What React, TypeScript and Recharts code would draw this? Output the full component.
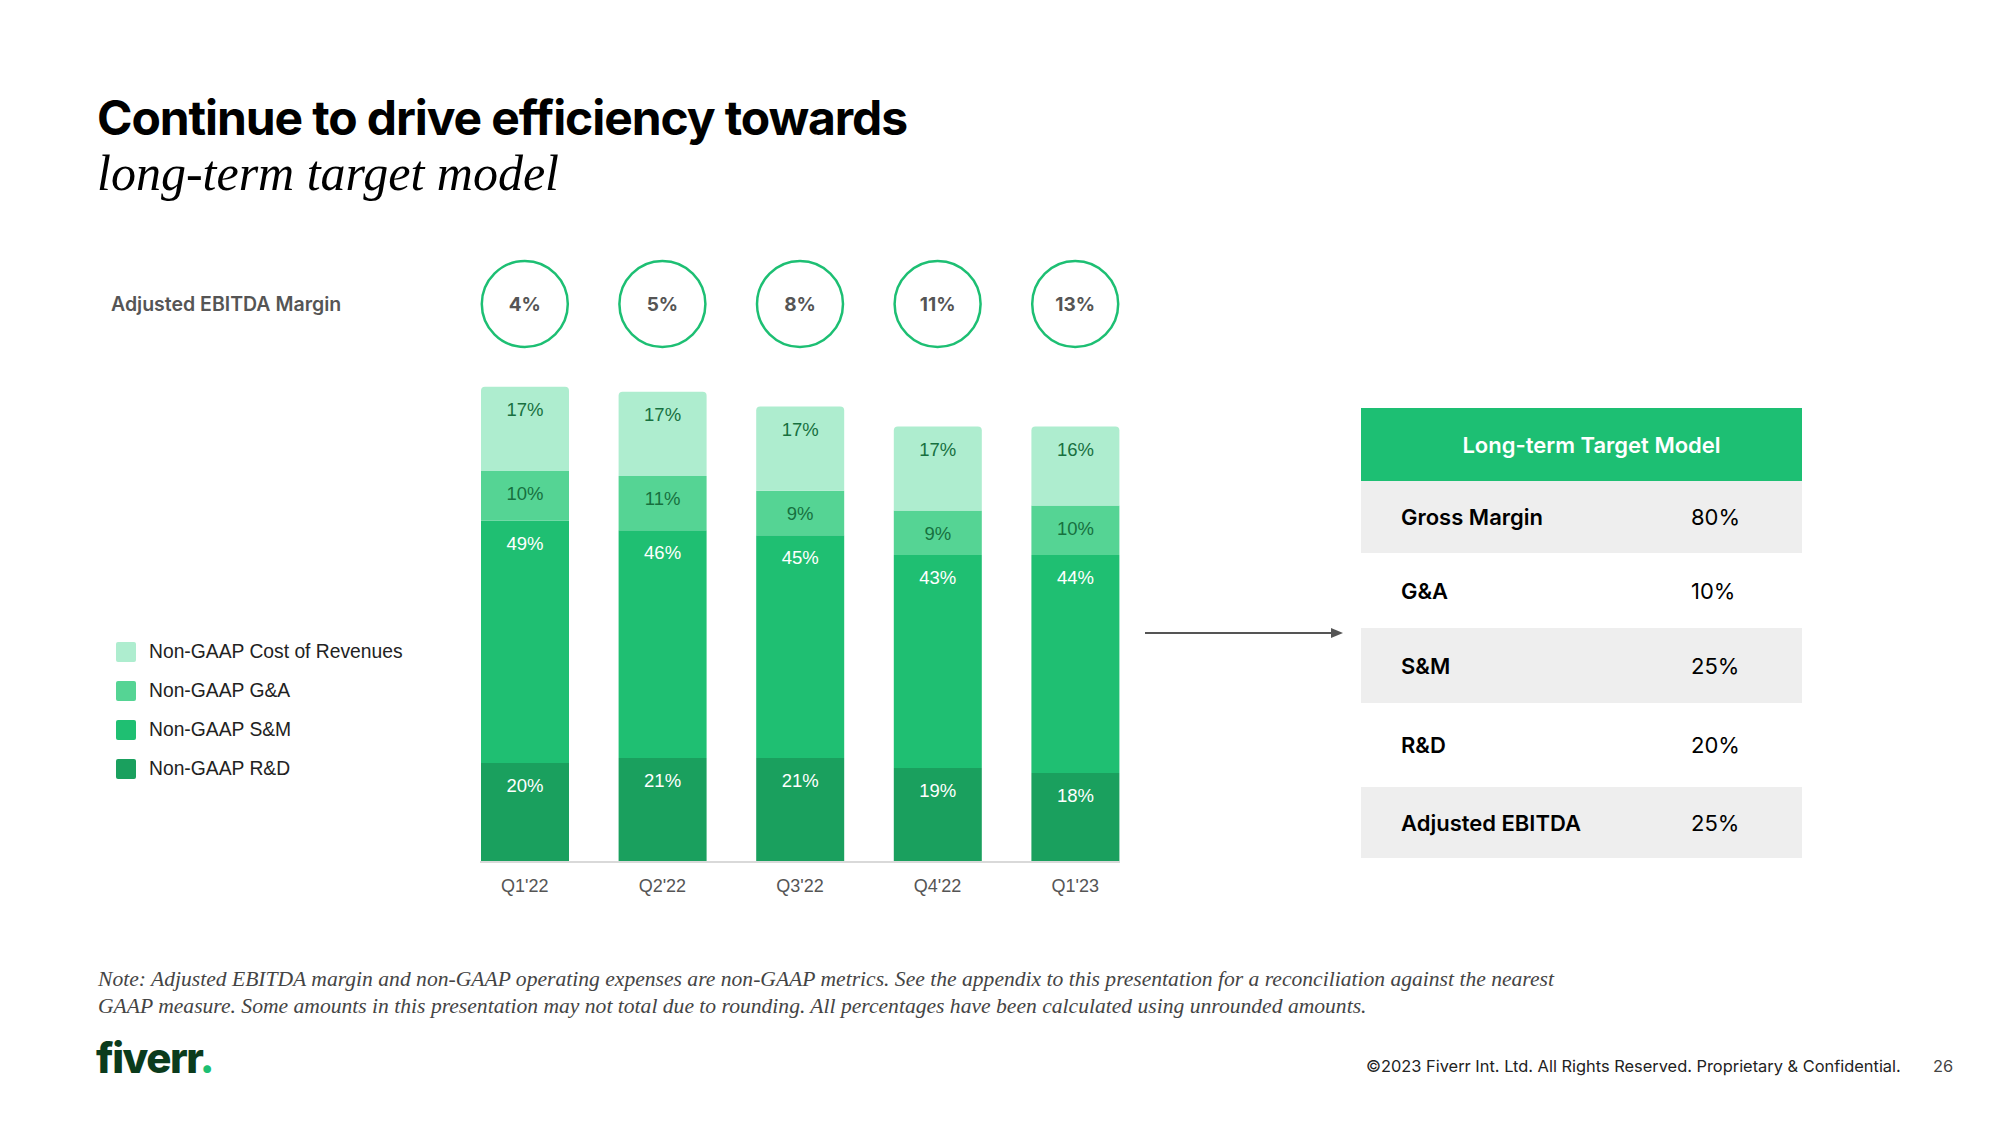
import { ComposedChart, Bar, XAxis, YAxis, LabelList, Legend } from "recharts";

const quarters = ["Q1'22", "Q2'22", "Q3'22", "Q4'22", "Q1'23"];
const ebitdaMargin = [4, 5, 8, 11, 13];
const costOfRevenues = [17, 17, 17, 17, 16];
const gAndA = [10, 11, 9, 9, 10];
const sAndM = [49, 46, 45, 43, 44];
const rAndD = [20, 21, 21, 19, 18];

const legendOrder = ["Non-GAAP Cost of Revenues", "Non-GAAP G&A", "Non-GAAP S&M", "Non-GAAP R&D"];

const targetLabels = ["Gross Margin", "G&A", "S&M", "R&D", "Adjusted EBITDA"];
const targetValues = ["80%", "10%", "25%", "20%", "25%"];

const data = quarters.map((q, i) => ({
  quarter: q,
  rd: rAndD[i],
  sm: sAndM[i],
  ga: gAndA[i],
  cost: costOfRevenues[i],
}));

const GREEN = "#1dbf73";
const colors = { cost: "#aeedcf", ga: "#55d494", sm: "#1fbf72", rd: "#1aa05e" };
const SANS = "'Liberation Sans', Arial, sans-serif";

function CircleTick(props: any) {
  const { x, y, payload } = props;
  const i = quarters.indexOf(payload.value);
  const cy = y - 63;
  return (
    <g>
      <circle cx={x} cy={cy} r={43} fill="#fff" stroke={GREEN} strokeWidth={2.5} />
      <text
        x={x}
        y={cy}
        dy="0.36em"
        textAnchor="middle"
        fill="#555"
        style={{ fontFamily: "Inter, sans-serif", fontWeight: 700, fontSize: 19 }}
      >
        {ebitdaMargin[i]}%
      </text>
    </g>
  );
}

function LegendBox(props: any) {
  const items = [...(props.payload || [])].sort(
    (a: any, b: any) => legendOrder.indexOf(a.value) - legendOrder.indexOf(b.value)
  );
  return (
    <div>
      {items.map((it: any) => (
        <div key={it.value} style={{ height: 39, display: "flex", alignItems: "center" }}>
          <span style={{ width: 20, height: 20, borderRadius: 2, background: it.color, display: "inline-block" }} />
          <span style={{ marginLeft: 13, fontFamily: SANS, fontSize: 19.3, color: "#222" }}>{it.value}</span>
        </div>
      ))}
    </div>
  );
}

const pct = (v: any) => `${v}%`;

export default function App() {
  return (
    <div style={{ position: "absolute", left: 0, top: 0, width: 2000, height: 1125, background: "#fff", overflow: "hidden" }}>
      <div style={{ position: "absolute", left: 97, top: 94, fontFamily: "Inter, sans-serif", fontWeight: 700, fontSize: 48, lineHeight: "48px", letterSpacing: -1.1, color: "#000", whiteSpace: "nowrap" }}>
        Continue to drive efficiency towards
      </div>
      <div style={{ position: "absolute", left: 97, top: 148, fontFamily: "'Liberation Serif', serif", fontStyle: "italic", fontSize: 50, lineHeight: "50px", color: "#000", whiteSpace: "nowrap" }}>
        long-term target model
      </div>

      <div style={{ position: "absolute", left: 111, top: 292, fontFamily: "Inter, sans-serif", fontWeight: 600, fontSize: 19.5, lineHeight: "24px", color: "#555", whiteSpace: "nowrap" }}>
        Adjusted EBITDA Margin
      </div>

      <div style={{ position: "absolute", left: 0, top: 230 }}>
        <ComposedChart width={1200} height={680} data={data} margin={{ top: 0, right: 80, bottom: 8, left: 480 }}>
          <XAxis
            xAxisId="top"
            orientation="top"
            dataKey="quarter"
            height={137}
            axisLine={false}
            tickLine={false}
            tickSize={0}
            tickMargin={0}
            padding={{ left: -24, right: -24 }}
            tick={<CircleTick />}
          />
          <XAxis
            dataKey="quarter"
            height={40}
            axisLine={{ stroke: "#d9d9d9", strokeWidth: 2 }}
            tickLine={false}
            tickSize={0}
            tickMargin={17}
            padding={{ left: -24, right: -24 }}
            tick={{ fill: "#555", fontFamily: SANS, fontSize: 18 }}
          />
          <YAxis hide domain={[0, 100]} />
          <Legend
            layout="vertical"
            align="center"
            verticalAlign="middle"
            content={<LegendBox />}
            wrapperStyle={{ left: 116, top: 402, width: 320 }}
          />
          <Bar dataKey="rd" name="Non-GAAP R&D" stackId="a" fill={colors.rd} barSize={88} isAnimationActive={false}>
            <LabelList dataKey="rd" position="insideTop" offset={16} formatter={pct} fill="#fff" fontSize={18.5} fontFamily={SANS} />
          </Bar>
          <Bar dataKey="sm" name="Non-GAAP S&M" stackId="a" fill={colors.sm} barSize={88} isAnimationActive={false}>
            <LabelList dataKey="sm" position="insideTop" offset={16} formatter={pct} fill="#fff" fontSize={18.5} fontFamily={SANS} />
          </Bar>
          <Bar dataKey="ga" name="Non-GAAP G&A" stackId="a" fill={colors.ga} barSize={88} isAnimationActive={false}>
            <LabelList dataKey="ga" position="insideTop" offset={16} formatter={pct} fill="#17703f" fontSize={18.5} fontFamily={SANS} />
          </Bar>
          <Bar dataKey="cost" name="Non-GAAP Cost of Revenues" stackId="a" fill={colors.cost} barSize={88} radius={[4, 4, 0, 0]} isAnimationActive={false}>
            <LabelList dataKey="cost" position="insideTop" offset={16} formatter={pct} fill="#17703f" fontSize={18.5} fontFamily={SANS} />
          </Bar>
        </ComposedChart>
      </div>

      <svg style={{ position: "absolute", left: 1140, top: 623 }} width={210} height={20}>
        <line x1={5} y1={10} x2={193} y2={10} stroke="#555" strokeWidth={2} />
        <polygon points="203,10 191,5 191,15" fill="#555" />
      </svg>

      <div style={{ position: "absolute", left: 1361, top: 408, width: 441 }}>
        <div style={{ height: 73, background: GREEN, color: "#fff", display: "flex", alignItems: "center", justifyContent: "center", paddingLeft: 20, boxSizing: "border-box", fontFamily: "Inter, sans-serif", fontWeight: 600, fontSize: 22 }}>
          Long-term Target Model
        </div>
        {targetLabels.map((label, i) => (
          <div
            key={label}
            style={{
              height: [72, 75, 75, 84, 71][i],
              background: i % 2 === 0 ? "#eeeeee" : "#fff",
              display: "flex",
              alignItems: "center",
              fontFamily: "Inter, sans-serif",
              fontSize: 22,
              color: "#000",
            }}
          >
            <span style={{ marginLeft: 40, width: 290, fontWeight: 600 }}>{label}</span>
            <span>{targetValues[i]}</span>
          </div>
        ))}
      </div>

      <div style={{ position: "absolute", left: 98, top: 966, fontFamily: "'Liberation Serif', serif", fontStyle: "italic", fontSize: 21.6, lineHeight: "27px", color: "#444", whiteSpace: "nowrap" }}>
        <div>Note: Adjusted EBITDA margin and non-GAAP operating expenses are non-GAAP metrics. See the appendix to this presentation for a reconciliation against the nearest</div>
        <div>GAAP measure. Some amounts in this presentation may not total due to rounding. All percentages have been calculated using unrounded amounts.</div>
      </div>

      <div style={{ position: "absolute", left: 96, top: 1035, fontFamily: "Inter, sans-serif", fontWeight: 800, fontSize: 42, lineHeight: "46px", letterSpacing: -1.5, color: "#0b3b1c", whiteSpace: "nowrap" }}>
        fiverr<span style={{ color: GREEN }}>.</span>
      </div>

      <div style={{ position: "absolute", left: 1366, top: 1055, fontFamily: "Inter, sans-serif", fontSize: 16.4, lineHeight: "22px", color: "#222", whiteSpace: "nowrap" }}>
        ©2023 Fiverr Int. Ltd. All Rights Reserved. Proprietary &amp; Confidential.
      </div>
      <div style={{ position: "absolute", left: 1933, top: 1055, fontFamily: "Inter, sans-serif", fontSize: 16.4, lineHeight: "22px", color: "#444" }}>
        26
      </div>
    </div>
  );
}
